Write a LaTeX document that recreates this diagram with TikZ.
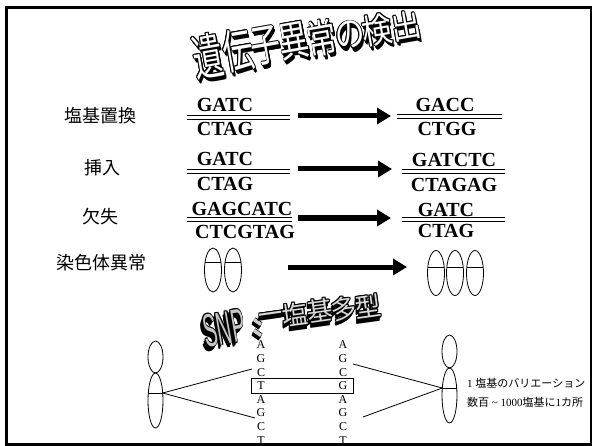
\documentclass[tikz,border=0pt]{standalone}
\usepackage{fontspec}
\setmainfont{Liberation Serif}
\newfontfamily\jp{Noto Sans CJK JP}
\newfontfamily\lsans{Liberation Sans}
\usetikzlibrary{arrows.meta,calc}

% one extruded, outlined glyph group: #1 name, #2 x, #3 y, #4 node options,
% #5 face colour, #6 extrusion step (dx,dy), #7 text
\newcommand\wordglyph[7]{%
  \begin{scope}[shift={(#2,#3)}]
    \foreach \d in {1,...,6}{
      \node[wa,#4,text=black] (#1s\d) at ($\d*(#6)$) {#7};
    }
    \foreach \a in {0,45,...,315}{
      \node[wa,#4,text=black] (#1o\a) at ({0.8*cos(\a)},{0.8*sin(\a)}) {#7};
    }
    \node[wa,#4,text=#5] (#1) at (0,0) {#7};
  \end{scope}}

\begin{document}
\begin{tikzpicture}[x=1pt,y=-1pt,
  wa/.style={inner sep=0pt, anchor=center},
  rowlabel/.style={font=\jp\fontsize{18}{18}\selectfont, inner sep=0pt},
  dna/.style={font=\bfseries\fontsize{20}{20}\selectfont, inner sep=0pt},
  base/.style={font=\fontsize{12}{12}\selectfont, inner sep=0pt},
  note/.style={font=\fontsize{11}{11}\selectfont, inner sep=0pt, anchor=west},
  strand/.style={double, double distance=3.2pt, line width=0.9pt},
  bigarrow/.style={line width=5pt, -{Triangle[length=14pt,width=16pt]}},
  thinline/.style={line width=0.8pt},
  colonbar/.style={line width=3.6pt, line cap=butt},
]
\useasboundingbox (0,0) rectangle (596,446);

% ---------- heading ----------
\foreach \c/\x/\y/\s [count=\i] in {遺/208/56/1.65, 伝/238/50/1.56, 子/266/46/1.48, 異/294/41/1.39,
                        常/322/38/1.31, の/350/35/1.22, 検/377/30/1.14, 出/406/26/1.05}{
  \wordglyph{h\i}{\x}{\y}{font=\jp\fontsize{30}{30}\selectfont, rotate=10, yscale=\s}{white}{0.3,0.7}{\c}
}

% ---------- row labels ----------
\node[rowlabel] (lab1) at (100,116) {塩基置換};
\node[rowlabel] (lab2) at (102,168) {挿入};
\node[rowlabel] (lab3) at (100,217) {欠失};
\node[rowlabel] (lab4) at (101,263) {染色体異常};

% ---------- substitution ----------
\node[dna] (a1t) at (225,105) {GATC};
\node[dna] (a1b) at (225,128.5) {CTAG};
\coordinate (a1l) at (187,117.5); \coordinate (a1r) at (290,117.5);
\draw[strand] (a1l) -- (a1r);
\node[dna] (b1t) at (445,105) {GACC};
\node[dna] (b1b) at (447,129) {CTGG};
\coordinate (b1l) at (397,116.5); \coordinate (b1r) at (502,116.5);
\draw[strand] (b1l) -- (b1r);
\coordinate (p1s) at (298,116); \coordinate (p1e) at (391,116);
\draw[bigarrow] (p1s) -- (p1e);

% ---------- insertion ----------
\node[dna] (a2t) at (225,158.5) {GATC};
\node[dna] (a2b) at (225,183.5) {CTAG};
\coordinate (a2l) at (187,171.5); \coordinate (a2r) at (290,171.5);
\draw[strand] (a2l) -- (a2r);
\node[dna] (b2t) at (454,159.5) {GATCTC};
\node[dna] (b2b) at (454,184.5) {CTAGAG};
\coordinate (b2l) at (402,171.5); \coordinate (b2r) at (505,171.5);
\draw[strand] (b2l) -- (b2r);
\coordinate (p2s) at (298,169); \coordinate (p2e) at (392,169);
\draw[bigarrow] (p2s) -- (p2e);

% ---------- deletion ----------
\node[dna] (a3t) at (242,208.5) {GAGCATC};
\node[dna] (a3b) at (245,231.5) {CTCGTAG};
\coordinate (a3l) at (187,219.5); \coordinate (a3r) at (292,219.5);
\draw[strand] (a3l) -- (a3r);
\node[dna] (b3t) at (446,210) {GATC};
\node[dna] (b3b) at (446,231) {CTAG};
\coordinate (b3l) at (402,219.5); \coordinate (b3r) at (505,219.5);
\draw[strand] (b3l) -- (b3r);
\coordinate (p3s) at (298,218); \coordinate (p3e) at (391,218);
\draw[bigarrow] (p3s) -- (p3e);

% ---------- chromosome number ----------
\foreach \cx in {213,233}{
  \draw[thinline] (\cx,270) ellipse [x radius=8.5, y radius=22];
  \draw[thinline] (\cx-7.9,262) -- (\cx+7.9,262);
}
\foreach \cx in {436,455,475}{
  \draw[thinline] (\cx,273) ellipse [x radius=8.5, y radius=22.5];
  \draw[thinline] (\cx-8.2,267) -- (\cx+8.2,267);
}
\coordinate (p4s) at (288,267); \coordinate (p4e) at (407,267);
\draw[bigarrow] (p4s) -- (p4e);

% ---------- SNP heading ----------
\wordglyph{snp}{224}{328}{font=\lsans\fontsize{30}{30}\selectfont, rotate=10, xscale=0.68, yscale=1.55}{gray!45}{-0.4,0.8}{SNP}
% the colon, as two short slanted bars
\foreach \yy [count=\i] in {322,333}{
  \foreach \d in {1,...,5}{
    \draw[colonbar, black] ($(254,\yy-2.5)+\d*(-0.3,0.7)$) -- ($(261,\yy+2.5)+\d*(-0.3,0.7)$);
  }
  \draw[line width=5pt, black] (254,\yy-2.5) -- (261,\yy+2.5);
  \draw[colonbar, gray!40] (254,\yy-2.5) -- (261,\yy+2.5);
}
\foreach \c/\x/\y [count=\i] in {一/272/318, 塩/295/314.5, 基/320/310.5, 多/344/308.5, 型/368/306.5}{
  \wordglyph{s\i}{\x}{\y}{font=\jp\fontsize{26}{26}\selectfont, rotate=8}{gray!30}{-0.2,0.8}{\c}
}

% ---------- SNP detail ----------
% left chromosome
\draw[thinline] (155.5,357) ellipse [x radius=7.5, y radius=16];
\draw[thinline] (155.5,400.5) ellipse [x radius=7.5, y radius=27.5];
\draw[thinline] (148.3,393) -- (162.7,393);
\coordinate (lc) at (162.7,393);
% right chromosome
\draw[thinline] (449.5,351.5) ellipse [x radius=7.5, y radius=16.5];
\draw[thinline] (449.5,395.5) ellipse [x radius=7.5, y radius=27.5];
\draw[thinline] (442.3,388) -- (456.7,388);
\coordinate (rc) at (442.3,388);

% base columns
\foreach \b [count=\i] in {A,G,C,T,A,G,C,T}{
  \node[base] (L\i) at (261,{345+13.6*(\i-1)}) {\b};
}
\foreach \b [count=\i] in {A,G,C,G,A,G,C,T}{
  \node[base] (R\i) at (343,{345+13.6*(\i-1)}) {\b};
}
\draw[thinline] (251,378) rectangle (353,393.5);

\coordinate (lt) at (252,369); \coordinate (lb) at (255,418);
\coordinate (rt) at (353,364); \coordinate (rb) at (363,417);
\draw[thinline] (lc) -- (lt);
\draw[thinline] (lc) -- (lb);
\draw[thinline] (rt) -- (rc);
\draw[thinline] (rb) -- (rc);

\node[note] (n1) at (467,383) {1 {\jp 塩基のバリエーション}};
\node[note] (n2) at (467,402) {{\jp 数百} \textasciitilde{} 1000{\jp 塩基に}1{\jp カ所}};

% ---------- frame ----------
\draw[line width=2.6pt] (6.7,7.7) rectangle (590.8,444.2);
\end{tikzpicture}
\end{document}
